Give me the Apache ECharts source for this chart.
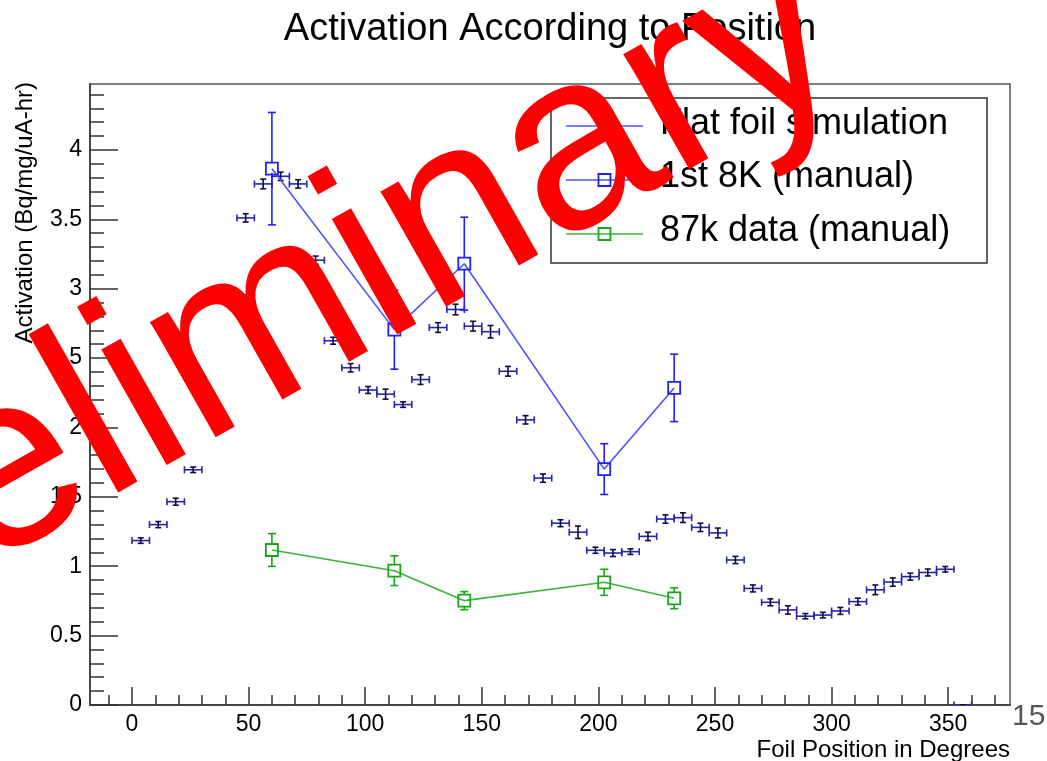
<!DOCTYPE html>
<html><head><meta charset="utf-8">
<script src="https://cdn.jsdelivr.net/npm/echarts@6/dist/echarts.min.js"></script>
<style>html,body{margin:0;padding:0;background:#fff}#c{width:1047px;height:761px}</style>
</head><body><div id="c"></div>
<script>
// ---- data ----
const simAngles = [3.75, 11.25, 18.75, 26.25, 33.75, 41.25, 48.75, 56.25, 63.75, 71.25, 78.75, 86.25,
  93.75, 101.25, 108.75, 116.25, 123.75, 131.25, 138.75, 146.25, 153.75, 161.25, 168.75, 176.25,
  183.75, 191.25, 198.75, 206.25, 213.75, 221.25, 228.75, 236.25, 243.75, 251.25, 258.75, 266.25,
  273.75, 281.25, 288.75, 296.25, 303.75, 311.25, 318.75, 326.25, 333.75, 341.25, 348.75, 356.25];
const simValues = [1.185, 1.30, 1.465, 1.695, 2.14, 2.935, 3.51, 3.755, 3.81, 3.755, 3.205, 2.625,
  2.43, 2.27, 2.24, 2.165, 2.345, 2.72, 2.85, 2.73, 2.69, 2.405, 2.055, 1.635,
  1.31, 1.245, 1.115, 1.095, 1.105, 1.215, 1.34, 1.35, 1.28, 1.24, 1.045, 0.84,
  0.74, 0.685, 0.64, 0.648, 0.678, 0.745, 0.83, 0.886, 0.925, 0.955, 0.978, 0.0];
const simErrors = [0.02, 0.022, 0.025, 0.02, 0.025, 0.03, 0.03, 0.035, 0.03, 0.03, 0.03, 0.025,
  0.03, 0.025, 0.036, 0.02, 0.035, 0.035, 0.038, 0.035, 0.045, 0.035, 0.03, 0.03,
  0.025, 0.045, 0.022, 0.025, 0.02, 0.03, 0.03, 0.035, 0.03, 0.035, 0.026, 0.025,
  0.025, 0.03, 0.019, 0.02, 0.025, 0.025, 0.035, 0.03, 0.025, 0.025, 0.02, 0.0];
const simHalfBin = 3.75;
const manualAngles = [60, 112.5, 142.5, 202.5, 232.5];
const first8kValues = [3.865, 2.705, 3.18, 1.70, 2.285];
const first8kErrors = [0.405, 0.285, 0.335, 0.183, 0.243];
const data87kValues = [1.117, 0.968, 0.752, 0.884, 0.769];
const data87kErrors = [0.118, 0.107, 0.065, 0.094, 0.075];
const xMajorTicks = [0, 50, 100, 150, 200, 250, 300, 350];
const xMinorTicks = [-10, 10, 20, 30, 40, 60, 70, 80, 90, 110, 120, 130, 140, 160, 170, 180, 190,
  210, 220, 230, 240, 260, 270, 280, 290, 310, 320, 330, 340, 360, 370];
const yMajorTicks = [0, 0.5, 1, 1.5, 2, 2.5, 3, 3.5, 4];
const yMinorTicks = [0.1, 0.2, 0.3, 0.4, 0.6, 0.7, 0.8, 0.9, 1.1, 1.2, 1.3, 1.4, 1.6, 1.7, 1.8, 1.9,
  2.1, 2.2, 2.3, 2.4, 2.6, 2.7, 2.8, 2.9, 3.1, 3.2, 3.3, 3.4, 3.6, 3.7, 3.8, 3.9, 4.1, 4.2, 4.3, 4.4];
const seriesNames = ['Flat foil simulation', '1st 8K (manual)', '87k data (manual)'];
const titleText = 'Activation According to Position';
const xTitle = 'Foil Position in Degrees';
const yTitle = 'Activation (Bq/mg/uA-hr)';
const watermarkText = 'Preliminary';
const pageNumber = '15';

// ---- chart ----
const FONT = '"Liberation Sans", Arial, Helvetica, sans-serif';
const X_MIN = -18, X_MAX = 376.5, Y_MIN = 0, Y_MAX = 4.475;
const C_SIM_H = '#2626b0', C_SIM_V = '#0c0c48';
const C_8K = '#1f1fff', C_8K_LINE = '#5050ff';
const C_87K = '#1aa51a', C_87K_LINE = '#3cb43c';

const ln = (x1, y1, x2, y2, s) => ({ type: 'line', shape: { x1, y1, x2, y2 }, style: s });

function simRender(params, api) {
  const x = api.value(0), y = api.value(1), e = api.value(2);
  const c = api.coord([x, y]);
  const l = api.coord([x - simHalfBin, y])[0];
  const r = api.coord([x + simHalfBin, y])[0];
  const t = api.coord([x, y + e])[1];
  const b = api.coord([x, y - e])[1];
  const hs = { stroke: C_SIM_H, lineWidth: 1.6 };
  const vs = { stroke: C_SIM_V, lineWidth: 1.6 };
  return { type: 'group', children: [
    ln(l, c[1], r, c[1], hs), ln(l, c[1] - 3.5, l, c[1] + 3.5, hs), ln(r, c[1] - 3.5, r, c[1] + 3.5, hs),
    ln(c[0], t, c[0], b, vs), ln(c[0] - 3, t, c[0] + 3, t, vs), ln(c[0] - 3, b, c[0] + 3, b, vs)
  ] };
}
function errRender(color) {
  return function (params, api) {
    const x = api.value(0), y = api.value(1), e = api.value(2);
    const c = api.coord([x, y]);
    const t = api.coord([x, y + e])[1];
    const b = api.coord([x, y - e])[1];
    const s = { stroke: color, lineWidth: 1.6 };
    const h = 6, cw = 4;
    const ch = [];
    if (c[1] - t > h) { ch.push(ln(c[0], c[1] - h, c[0], t, s)); }
    ch.push(ln(c[0] - cw, t, c[0] + cw, t, s));
    if (b - c[1] > h) { ch.push(ln(c[0], c[1] + h, c[0], b, s)); }
    ch.push(ln(c[0] - cw, b, c[0] + cw, b, s));
    return { type: 'group', children: ch };
  };
}

function valAxis(min, max, pos, ticks, len, labels) {
  return {
    type: 'value', min, max, position: pos,
    axisLine: { show: true, onZero: false, lineStyle: { color: '#444', width: 1.5 } },
    axisTick: { show: true, inside: true, length: len, customValues: ticks, lineStyle: { color: '#333', width: 1.5 } },
    axisLabel: labels ? { show: true, customValues: ticks, color: '#000', fontSize: 23, fontFamily: FONT } : { show: false },
    splitLine: { show: false }, minorTick: { show: false }
  };
}

const chart = echarts.init(document.getElementById('c'), null, { renderer: 'canvas' });
const legendTop = 98, legendRow = 53.5;
const WM_DEG = 29.5, WM_SIZE = 251;
const option = {
  animation: false,
  backgroundColor: '#fff',
  grid: { left: 90, top: 84, right: 37, bottom: 56, show: true, borderColor: '#555', borderWidth: 1.5, backgroundColor: 'transparent' },
  xAxis: [
    valAxis(X_MIN, X_MAX, 'bottom', xMajorTicks, 18, true),
    valAxis(X_MIN, X_MAX, 'bottom', xMinorTicks, 10, false)
  ],
  yAxis: [
    valAxis(Y_MIN, Y_MAX, 'left', yMajorTicks, 28, true),
    valAxis(Y_MIN, Y_MAX, 'left', yMinorTicks, 14, false)
  ],
  series: [
    { type: 'custom', name: seriesNames[0], xAxisIndex: 0, yAxisIndex: 0, clip: true, z: 3,
      data: simAngles.map((a, i) => [a, simValues[i], simErrors[i]]), renderItem: simRender },
    { type: 'line', name: seriesNames[1], xAxisIndex: 0, yAxisIndex: 0, z: 4,
      data: manualAngles.map((a, i) => [a, first8kValues[i]]),
      symbol: 'rect', symbolSize: 12, lineStyle: { color: C_8K_LINE, width: 1.6 },
      itemStyle: { color: 'rgba(255,255,255,0)', borderColor: C_8K, borderWidth: 1.8 }, emphasis: { disabled: true } },
    { type: 'custom', name: seriesNames[1] + ' err', xAxisIndex: 0, yAxisIndex: 0, z: 4,
      data: manualAngles.map((a, i) => [a, first8kValues[i], first8kErrors[i]]), renderItem: errRender(C_8K) },
    { type: 'line', name: seriesNames[2], xAxisIndex: 0, yAxisIndex: 0, z: 4,
      data: manualAngles.map((a, i) => [a, data87kValues[i]]),
      symbol: 'rect', symbolSize: 12, lineStyle: { color: C_87K_LINE, width: 1.6 },
      itemStyle: { color: 'rgba(255,255,255,0)', borderColor: C_87K, borderWidth: 1.8 }, emphasis: { disabled: true } },
    { type: 'custom', name: seriesNames[2] + ' err', xAxisIndex: 0, yAxisIndex: 0, z: 4,
      data: manualAngles.map((a, i) => [a, data87kValues[i], data87kErrors[i]]), renderItem: errRender(C_87K) }
  ],
  graphic: [
    { type: 'text', x: 550, y: 30, z: 10, style: { text: titleText, font: '38px ' + FONT, fill: '#000', textAlign: 'center', textVerticalAlign: 'middle', align: 'center', verticalAlign: 'middle' } },
    { type: 'text', x: 1010, y: 750, z: 10, style: { text: xTitle, font: '24px ' + FONT, fill: '#000', textAlign: 'right', textVerticalAlign: 'middle', align: 'right', verticalAlign: 'middle' } },
    { type: 'text', x: 25, y: 82, rotation: Math.PI / 2, z: 10, style: { text: yTitle, font: '24px ' + FONT, fill: '#000', textAlign: 'right', textVerticalAlign: 'middle', align: 'right', verticalAlign: 'middle' } },
    { type: 'text', x: 1012, y: 717, z: 10, style: { text: pageNumber, font: '30px ' + FONT, fill: '#555', textAlign: 'left', textVerticalAlign: 'middle', align: 'left', verticalAlign: 'middle' } },
    // legend
    { type: 'rect', z: 20, shape: { x: 551, y: legendTop, width: 436, height: 165 }, style: { fill: '#fff', stroke: '#333', lineWidth: 1.5 } },
    { type: 'line', z: 21, shape: { x1: 566, y1: 126, x2: 643, y2: 126 }, style: { stroke: C_8K_LINE, lineWidth: 1.6 } },
    { type: 'line', z: 21, shape: { x1: 566, y1: 180, x2: 643, y2: 180 }, style: { stroke: C_8K_LINE, lineWidth: 1.6 } },
    { type: 'rect', z: 22, shape: { x: 598.5, y: 174, width: 12, height: 12 }, style: { fill: 'rgba(255,255,255,0)', stroke: C_8K, lineWidth: 1.8 } },
    { type: 'line', z: 21, shape: { x1: 566, y1: 234, x2: 643, y2: 234 }, style: { stroke: C_87K_LINE, lineWidth: 1.6 } },
    { type: 'rect', z: 22, shape: { x: 598.5, y: 228, width: 12, height: 12 }, style: { fill: 'rgba(255,255,255,0)', stroke: C_87K, lineWidth: 1.8 } },
    { type: 'text', x: 660, y: 124, z: 22, style: { text: seriesNames[0], font: '36px ' + FONT, fill: '#000', textAlign: 'left', textVerticalAlign: 'middle', align: 'left', verticalAlign: 'middle' } },
    { type: 'text', x: 660, y: 124 + legendRow, z: 22, style: { text: seriesNames[1], font: '36px ' + FONT, fill: '#000', textAlign: 'left', textVerticalAlign: 'middle', align: 'left', verticalAlign: 'middle' } },
    { type: 'text', x: 660, y: 124 + 2 * legendRow, z: 22, style: { text: seriesNames[2], font: '36px ' + FONT, fill: '#000', textAlign: 'left', textVerticalAlign: 'middle', align: 'left', verticalAlign: 'middle' } },
    // watermark
    { type: 'text', x: -241, y: 685, rotation: WM_DEG * Math.PI / 180, z: 100, style: { text: watermarkText, x: 0, y: -60, font: WM_SIZE + 'px ' + FONT, fill: '#ff0000', textAlign: 'left', textVerticalAlign: 'middle', align: 'left', verticalAlign: 'middle' } }
  ]
};
chart.setOption(option);
</script>
</body></html>
